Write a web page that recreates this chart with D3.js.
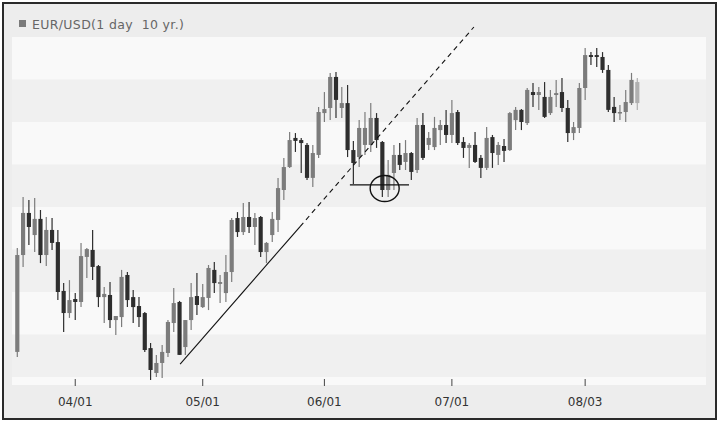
<!DOCTYPE html>
<html><head><meta charset="utf-8">
<script src="https://cdn.jsdelivr.net/npm/d3@7"></script>
<style>html,body{margin:0;padding:0;background:#fff}svg{display:block}text{white-space:pre}</style>
</head><body><div id="chart"></div>
<script>
// ---- data (EUR/USD daily, 2009-03-18 .. 2009-08-14) ----
const dates = [
"03/18","03/19","03/20","03/23","03/24","03/25","03/26","03/27","03/30","03/31",
"04/01","04/02","04/03","04/06","04/07","04/08","04/09","04/10","04/13","04/14","04/15","04/16","04/17","04/20","04/21","04/22","04/23","04/24","04/27","04/28","04/29","04/30",
"05/01","05/04","05/05","05/06","05/07","05/08","05/11","05/12","05/13","05/14","05/15","05/18","05/19","05/20","05/21","05/22","05/25","05/26","05/27","05/28","05/29",
"06/01","06/02","06/03","06/04","06/05","06/08","06/09","06/10","06/11","06/12","06/15","06/16","06/17","06/18","06/19","06/22","06/23","06/24","06/25","06/26","06/29","06/30",
"07/01","07/02","07/03","07/06","07/07","07/08","07/09","07/10","07/13","07/14","07/15","07/16","07/17","07/20","07/21","07/22","07/23","07/24","07/27","07/28","07/29","07/30","07/31",
"08/03","08/04","08/05","08/06","08/07","08/10","08/11","08/12","08/13","08/14"];
const openVals = [1.3018,1.3474,1.3672,1.3568,1.3644,1.3474,1.3592,1.3535,1.3305,1.3201,
1.3267,1.3253,1.3465,1.3498,1.3422,1.3276,1.3286,1.3168,1.3182,1.3380,1.3276,1.3234,1.3201,1.3036,1.2919,1.2966,1.3013,1.3154,1.3253,1.3041,1.3168,1.3281,
1.3229,1.3272,1.3404,1.3338,1.3295,1.3394,1.3648,1.3582,1.3653,1.3606,1.3653,1.3488,1.3568,1.3639,1.3780,1.3888,1.4025,1.4015,1.3992,1.3837,1.3945,
1.4142,1.4166,1.4312,1.4166,1.4189,1.3968,1.3935,1.3992,1.3992,1.4119,1.4006,1.3780,1.3860,1.3945,1.3912,1.3954,1.3874,1.4086,1.3992,1.3982,1.4062,1.4086,
1.4039,1.4147,1.4006,1.3978,1.3992,1.3931,1.3884,1.4029,1.3945,1.3987,1.3968,1.4109,1.4157,1.4095,1.4241,1.4227,1.4218,1.4142,1.4227,1.4241,1.4166,1.4048,1.4072,
1.4260,1.4415,1.4415,1.4406,1.4345,1.4171,1.4142,1.4147,1.4189,1.4189];
const highVals = [1.3507,1.3747,1.3733,1.3742,1.3686,1.3653,1.3648,1.3592,1.3342,1.3356,
1.3295,1.3531,1.3507,1.3592,1.3427,1.3324,1.3347,1.3187,1.3404,1.3394,1.3309,1.3276,1.3206,1.3060,1.3004,1.3051,1.3168,1.3319,1.3258,1.3168,1.3342,1.3389,
1.3338,1.3427,1.3441,1.3380,1.3474,1.3648,1.3676,1.3719,1.3724,1.3672,1.3658,1.3535,1.3676,1.3837,1.3931,1.4053,1.4048,1.4025,1.4001,1.3992,1.4171,
1.4241,1.4331,1.4335,1.4265,1.4274,1.4011,1.4109,1.4147,1.4189,1.4142,1.4011,1.3921,1.3992,1.4001,1.4015,1.3959,1.4119,1.4142,1.4053,1.4124,1.4109,1.4157,
1.4204,1.4157,1.4029,1.4001,1.4053,1.3945,1.4077,1.4039,1.4006,1.4020,1.4147,1.4171,1.4161,1.4260,1.4284,1.4265,1.4288,1.4251,1.4298,1.4307,1.4204,1.4100,1.4284,
1.4448,1.4429,1.4448,1.4429,1.4368,1.4218,1.4180,1.4251,1.4331,1.4307];
const lowVals = [1.2994,1.3418,1.3521,1.3488,1.3436,1.3422,1.3498,1.3262,1.3112,1.3178,
1.3168,1.3229,1.3366,1.3356,1.3229,1.3154,1.3131,1.3098,1.3135,1.3229,1.3154,1.3135,1.3018,1.2886,1.2900,1.2895,1.2994,1.3112,1.3004,1.3004,1.3121,1.3192,
1.3225,1.3215,1.3295,1.3248,1.3253,1.3347,1.3559,1.3568,1.3578,1.3521,1.3465,1.3436,1.3535,1.3582,1.3733,1.3884,1.3959,1.3860,1.3827,1.3794,1.3931,
1.4100,1.4109,1.4119,1.4119,1.3935,1.3808,1.3888,1.3945,1.3959,1.3978,1.3747,1.3747,1.3780,1.3874,1.3874,1.3827,1.3860,1.3921,1.3968,1.3968,1.3992,1.4001,
1.4001,1.3992,1.3931,1.3884,1.3907,1.3837,1.3874,1.3884,1.3898,1.3912,1.3964,1.4062,1.4062,1.4086,1.4171,1.4157,1.4119,1.4133,1.4171,1.4147,1.4006,1.4015,1.4048,
1.4204,1.4368,1.4359,1.4331,1.4147,1.4100,1.4109,1.4100,1.4180,1.4157];
const closeVals = [1.3474,1.3672,1.3606,1.3644,1.3474,1.3592,1.3531,1.3300,1.3201,1.3262,
1.3253,1.3469,1.3502,1.3418,1.3276,1.3291,1.3168,1.3187,1.3371,1.3262,1.3229,1.3182,1.3027,1.2933,1.2966,1.3018,1.3159,1.3248,1.3004,1.3168,1.3276,1.3239,
1.3276,1.3413,1.3342,1.3347,1.3394,1.3639,1.3582,1.3653,1.3606,1.3648,1.3488,1.3531,1.3644,1.3789,1.3888,1.4015,1.4011,1.4001,1.3837,1.3954,1.4147,
1.4161,1.4312,1.4204,1.4189,1.3968,1.3907,1.4072,1.4072,1.4119,1.4015,1.3780,1.3851,1.3945,1.3898,1.3954,1.3865,1.4086,1.3931,1.4025,1.4072,1.4086,1.4039,
1.4142,1.4001,1.3978,1.3992,1.3912,1.3884,1.4025,1.3954,1.3992,1.3964,1.4142,1.4157,1.4100,1.4251,1.4227,1.4241,1.4124,1.4218,1.4236,1.4166,1.4048,1.4076,1.4260,
1.4415,1.4406,1.4406,1.4345,1.4157,1.4142,1.4147,1.4194,1.4298,1.4288];
const tickDates = ["04/01","05/01","06/01","07/01","08/03"];
const bandLevels = [1.27,1.29,1.31,1.33,1.35,1.37,1.39,1.41,1.43,1.45];
const titleText = "EUR/USD(1 day  10 yr.)";
// annotations: [candle index (fractional), price]
const trendSolid = [[28.1, 1.2961], [48.8, 1.3608]];
const trendDashed = [[48.8, 1.3608], [78.8, 1.4547]];
const supportLine = [[57.4, 1.3804], [67.6, 1.3804]];
const circleMark = [63.4, 1.3787];

// ---- layout ----
const W = 720, H = 425;
const plot = {left: 12, right: 706, top: 37, bottom: 385};
const FONT = "DejaVu Sans, Verdana, sans-serif";
const svg = d3.select("#chart").append("svg").attr("width", W).attr("height", H);

svg.append("rect").attr("x", 3).attr("y", 3).attr("width", 713).attr("height", 416)
  .attr("fill", "#ededed").attr("stroke", "#2a2a2a").attr("stroke-width", 2);

const x = d3.scaleBand().domain(dates).range([14.4, 640.2]).paddingInner(0.28).paddingOuter(0.14);
const bw = x.bandwidth();
const n = dates.length;
const xIdx = d3.scaleLinear().domain([0, n - 1]).range([x(dates[0]) + bw / 2, x(dates[n - 1]) + bw / 2]);
const y = d3.scaleLinear().domain([1.29, 1.45]).range([377, 37]);

// background bands
svg.append("clipPath").attr("id", "plotclip").append("rect")
  .attr("x", plot.left).attr("y", plot.top).attr("width", plot.right - plot.left).attr("height", plot.bottom - plot.top);
const bands = d3.pairs(bandLevels);
svg.append("g").attr("clip-path", "url(#plotclip)").selectAll("rect").data(bands).join("rect")
  .attr("x", plot.left).attr("width", plot.right - plot.left)
  .attr("y", d => y(d[1])).attr("height", d => y(d[0]) - y(d[1]))
  .attr("fill", (d, i) => i % 2 === 0 ? "#f9f9f9" : "#f0f0f0");

// title
svg.append("rect").attr("x", 19).attr("y", 20).attr("width", 7).attr("height", 7).attr("fill", "#7a7a7a");
svg.append("text").attr("x", 32).attr("y", 28.5).text(titleText)
  .attr("font-family", FONT).attr("font-size", 12.5).attr("letter-spacing", 0.35).attr("fill", "#666");

// candles
const candles = dates.map((d, i) => ({d, i, o: openVals[i], h: highVals[i], l: lowVals[i], c: closeVals[i]}));
const col = c => c.i === n - 1 ? "#b0b0b0" : (c.c >= c.o ? "#7c7c7c" : "#2e2e2e");
const g = svg.append("g");
g.selectAll("line.wick").data(candles).join("line").attr("class", "wick")
  .attr("x1", c => x(c.d) + bw / 2).attr("x2", c => x(c.d) + bw / 2)
  .attr("y1", c => y(c.h)).attr("y2", c => y(c.l))
  .attr("stroke", col).attr("stroke-width", 1.2);
g.selectAll("rect.body").data(candles).join("rect").attr("class", "body")
  .attr("x", c => x(c.d)).attr("width", bw)
  .attr("y", c => y(Math.max(c.o, c.c)))
  .attr("height", c => Math.max(1.5, Math.abs(y(c.o) - y(c.c))))
  .attr("fill", col);

// annotations
const line = d3.line().x(p => xIdx(p[0])).y(p => y(p[1]));
svg.append("path").attr("d", line(trendSolid)).attr("fill", "none").attr("stroke", "#111").attr("stroke-width", 1.1);
svg.append("path").attr("d", line(trendDashed)).attr("fill", "none").attr("stroke", "#111").attr("stroke-width", 1.1).attr("stroke-dasharray", "5,4");
svg.append("path").attr("d", line(supportLine)).attr("fill", "none").attr("stroke", "#111").attr("stroke-width", 1.3);
svg.append("ellipse").attr("cx", xIdx(circleMark[0])).attr("cy", y(circleMark[1])).attr("rx", 14.5).attr("ry", 13)
  .attr("fill", "none").attr("stroke", "#111").attr("stroke-width", 1.4);

// x axis
const ax = svg.append("g");
ax.selectAll("line").data(tickDates).join("line")
  .attr("x1", d => x(d) + bw / 2).attr("x2", d => x(d) + bw / 2).attr("y1", 379).attr("y2", 386)
  .attr("stroke", "#444").attr("stroke-width", 1);
ax.selectAll("text").data(tickDates).join("text")
  .attr("x", d => x(d) + bw / 2).attr("y", 406).attr("text-anchor", "middle").text(d => d)
  .attr("font-family", FONT).attr("font-size", 12).attr("fill", "#333");
</script>
</body></html>
